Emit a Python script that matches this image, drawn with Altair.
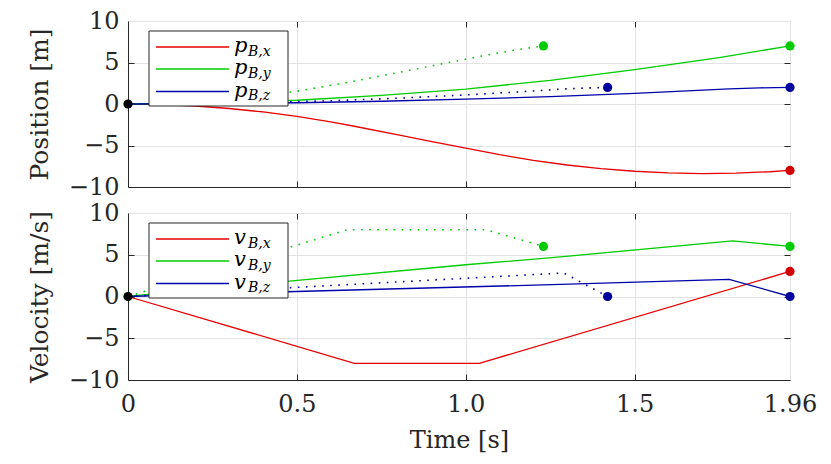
import altair as alt
import pandas as pd

# ---------------- data ----------------
# Position panel
t_px = [0, 0.1, 0.2, 0.3, 0.4, 0.5, 0.6, 0.67, 0.8, 0.9, 1.0, 1.05, 1.1, 1.2, 1.3, 1.4, 1.5, 1.6, 1.7, 1.8, 1.9, 1.96]
p_x = [0, -0.06, -0.24, -0.54, -0.96, -1.5, -2.15, -2.68, -3.72, -4.52, -5.32, -5.72, -6.11, -6.79, -7.35, -7.79, -8.1, -8.3, -8.38, -8.33, -8.16, -8.0]
t_py = [0, 0.25, 0.5, 0.75, 1.0, 1.25, 1.5, 1.75, 1.96]
p_y = [0, 0.12, 0.45, 1.05, 1.8, 2.85, 4.15, 5.6, 7.0]
t_pz = [0, 0.25, 0.5, 0.75, 1.0, 1.25, 1.5, 1.78, 1.87, 1.96]
p_z = [0, 0.04, 0.15, 0.33, 0.58, 0.9, 1.29, 1.82, 1.95, 2.0]
# dotted (alternative) trajectories
t_py_d = [0, 0.1, 0.2, 0.3, 0.4, 0.5, 0.65, 0.8, 0.9, 1.06, 1.15, 1.23]
p_y_d = [0, 0.06, 0.25, 0.55, 0.98, 1.54, 2.6, 3.8, 4.6, 5.88, 6.53, 7.0]
t_pz_d = [0, 0.2, 0.4, 0.6, 0.8, 1.0, 1.2, 1.29, 1.36, 1.42]
p_z_d = [0, 0.04, 0.17, 0.39, 0.7, 1.09, 1.57, 1.81, 1.93, 2.0]

# Velocity panel
t_vx = [0, 0.67, 1.04, 1.96]
v_x = [0, -8, -8, 3]
t_vy = [0, 0.02, 0.47, 1.0, 1.255, 1.79, 1.96]
v_y = [0, 0.1, 1.8, 3.8, 4.65, 6.65, 6.0]
t_vz = [0, 0.47, 1.255, 1.78, 1.96]
v_z = [0, 0.57, 1.42, 2.05, 0]
t_vy_d = [0, 0.65, 1.06, 1.23]
v_y_d = [0, 8, 8, 6]
t_vz_d = [0, 1.29, 1.42]
v_z_d = [0, 2.82, 0]

# end / start markers
pos_dot_t = [0, 1.23, 1.42, 1.96, 1.96, 1.96]
pos_dot_v = [0, 7, 2, -8, 7, 2]
vel_dot_t = [0, 1.23, 1.42, 1.96, 1.96, 1.96]
vel_dot_v = [0, 6, 0, 3, 6, 0]
dot_series = ["o", "dy", "dz", "dx", "dy", "dz"]

x_ticks = [0, 0.5, 1.0, 1.5, 1.96]
y_ticks = [-10, -5, 0, 5, 10]
legend_subs = ["B,x", "B,y", "B,z"]

# ---------------- styling ----------------
FONT = "DejaVu Serif"
TXT = "#262626"
GRID = "#e3e3e3"
W, H1, H2 = 662, 166, 167
color_scale = alt.Scale(
    domain=["x", "y", "z", "dx", "dy", "dz", "o"],
    range=["#e60000", "#00cc00", "#0000aa", "#d40000", "#00cc00", "#00009c", "#000000"],
)
line_colors = ["#e60000", "#00cc00", "#0000aa"]


def frame(t, v, s):
    return pd.DataFrame({"t": t, "v": v, "s": s})


def panel(solid, dotted, dots, H, ytitle, sym, bottom):
    xs = alt.Scale(domain=[0, 1.96], nice=False, zero=False)
    ys = alt.Scale(domain=[-10, 10], nice=False)

    xkw = dict(values=x_ticks, grid=True, gridColor=GRID, ticks=False, domain=True,
               domainColor=TXT, labels=bottom, orient="bottom")
    if bottom:
        xkw.update(labelExpr="datum.value == 0 ? '0' : (datum.value > 1.9 ? '1.96' : format(datum.value, '.1f'))",
                   labelFont=FONT, labelFontSize=24, labelColor=TXT, labelPadding=12,
                   title="Time [s]", titleFont=FONT, titleFontSize=24, titleFontWeight="normal",
                   titleColor=TXT, titlePadding=12, labelFlush=False)
    else:
        xkw.update(title=None)
    x_main = alt.X("t:Q", scale=xs, axis=alt.Axis(**xkw))
    y_main = alt.Y("v:Q", scale=ys, axis=alt.Axis(
        values=y_ticks, grid=True, gridColor=GRID, ticks=False, domain=True, domainColor=TXT,
        orient="left", labelFont=FONT, labelFontSize=24, labelColor=TXT, labelPadding=9,
        title=ytitle, titleFont=FONT, titleFontSize=25, titleFontWeight="normal",
        titleColor=TXT, titlePadding=16, labelFlush=False))

    solid_layer = alt.Chart(solid).mark_line(strokeWidth=1.3).encode(
        x=x_main, y=y_main,
        color=alt.Color("s:N", scale=color_scale, legend=None),
        detail="s:N")

    # dotted layer also carries the inward tick marks (top / right axes)
    x_tick = alt.X("t:Q", scale=xs, axis=alt.Axis(
        orient="top", values=[0.5, 1.0, 1.5], grid=True, gridColor=TXT, gridWidth=1,
        gridDash=[6, H - 12], labels=False, ticks=False, domain=False, title=None))
    y_tick = alt.Y("v:Q", scale=ys, axis=alt.Axis(
        orient="right", values=[-5, 0, 5], grid=True, gridColor=TXT, gridWidth=1,
        gridDash=[6, W - 12], labels=False, ticks=False, domain=False, title=None))
    dotted_layer = alt.Chart(dotted).mark_line(strokeWidth=1.6, strokeDash=[1.6, 6.5]).encode(
        x=x_tick, y=y_tick,
        color=alt.Color("s:N", scale=color_scale, legend=None),
        detail="s:N")

    one = pd.DataFrame({"k": [0]})
    legend_layers = [
        alt.Chart(one).mark_rect(fill="white", stroke=TXT, strokeWidth=1).encode(
            x=alt.value(21), x2=alt.value(160), y=alt.value(10), y2=alt.value(85))
    ]
    rows = [26, 48, 70.5]
    for i, sub in enumerate(legend_subs):
        yr = rows[i]
        legend_layers.append(alt.Chart(one).mark_rule(color=line_colors[i], strokeWidth=1.3).encode(
            x=alt.value(28), x2=alt.value(101), y=alt.value(yr)))
        legend_layers.append(alt.Chart(one).mark_text(
            font=FONT, fontStyle="italic", fontSize=21, align="left", baseline="alphabetic",
            color="black").encode(x=alt.value(106), y=alt.value(yr + 5), text=alt.value(sym)))
        legend_layers.append(alt.Chart(one).mark_text(
            font=FONT, fontStyle="italic", fontSize=14, align="left", baseline="alphabetic",
            color="black").encode(x=alt.value(120), y=alt.value(yr + 8.5), text=alt.value(sub)))

    dots_layer = alt.Chart(dots).mark_circle(size=85, opacity=1).encode(
        x=alt.X("t:Q", scale=xs, axis=None),
        y=alt.Y("v:Q", scale=ys, axis=None),
        color=alt.Color("s:N", scale=color_scale, legend=None))

    return alt.layer(solid_layer, dotted_layer, *legend_layers, dots_layer).resolve_axis(
        x="independent", y="independent").properties(width=W, height=H)


pos_solid = pd.concat([frame(t_px, p_x, "x"), frame(t_py, p_y, "y"), frame(t_pz, p_z, "z")])
pos_dotted = pd.concat([frame(t_py_d, p_y_d, "y"), frame(t_pz_d, p_z_d, "z")])
pos_dots = frame(pos_dot_t, pos_dot_v, dot_series)

vel_solid = pd.concat([frame(t_vx, v_x, "x"), frame(t_vy, v_y, "y"), frame(t_vz, v_z, "z")])
vel_dotted = pd.concat([frame(t_vy_d, v_y_d, "y"), frame(t_vz_d, v_z_d, "z")])
vel_dots = frame(vel_dot_t, vel_dot_v, dot_series)

top = panel(pos_solid, pos_dotted, pos_dots, H1, "Position [m]", "p", False)
bot = panel(vel_solid, vel_dotted, vel_dots, H2, "Velocity [m/s]", "v", True)

chart = alt.vconcat(top, bot, spacing=26, bounds="flush").properties(
    padding={"left": 18, "top": 0, "right": 5, "bottom": 0}
).configure_view(stroke=TXT, strokeWidth=1).configure(background="white")

chart.save("out.html", embed_options={"renderer": "svg", "actions": False})
